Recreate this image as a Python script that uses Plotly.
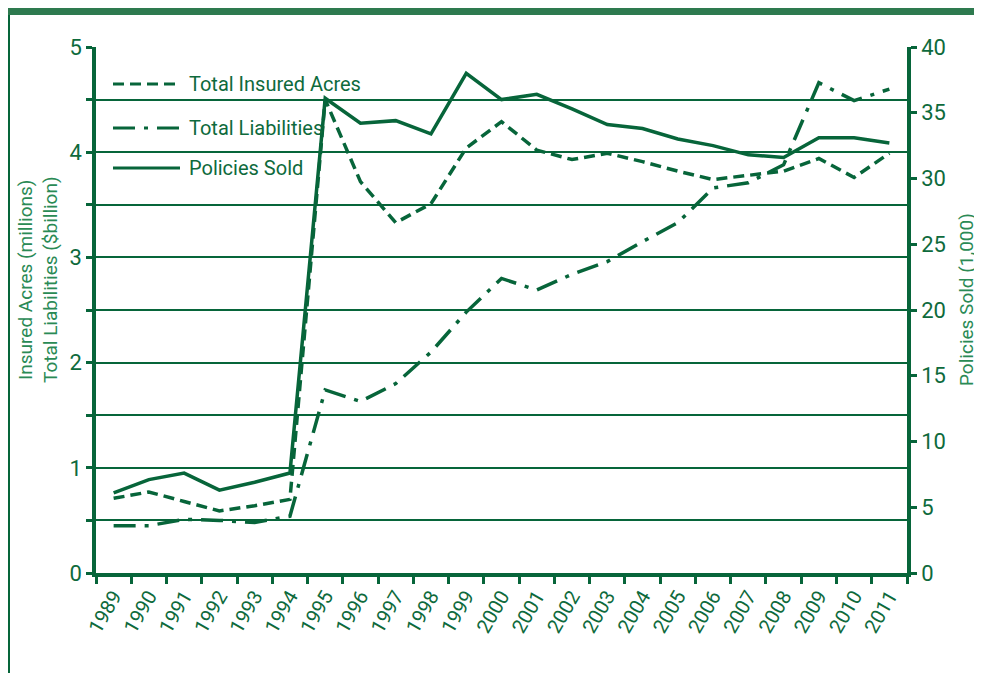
import plotly.graph_objects as go

years = ["1989", "1990", "1991", "1992", "1993", "1994", "1995", "1996", "1997", "1998", "1999",
         "2000", "2001", "2002", "2003", "2004", "2005", "2006", "2007", "2008", "2009", "2010", "2011"]
insured_acres = [0.71, 0.77, 0.68, 0.59, 0.64, 0.70, 4.50, 3.72, 3.33, 3.51, 4.04, 4.29,
                 4.02, 3.93, 3.99, 3.91, 3.82, 3.74, 3.78, 3.82, 3.94, 3.76, 3.99]
liabilities = [0.45, 0.45, 0.51, 0.50, 0.48, 0.54, 1.74, 1.63, 1.80, 2.10, 2.48, 2.80,
               2.69, 2.84, 2.96, 3.15, 3.33, 3.66, 3.71, 3.88, 4.66, 4.49, 4.60]
policies_sold = [6.1, 7.1, 7.6, 6.3, 6.9, 7.6, 36.1, 34.2, 34.4, 33.4, 38.0, 36.0,
                 36.4, 35.3, 34.1, 33.8, 33.0, 32.5, 31.8, 31.6, 33.1, 33.1, 32.7]
left_ticks = [0, 0.5, 1, 1.5, 2, 2.5, 3, 3.5, 4, 4.5, 5]
left_labels = ["0", "", "1", "", "2", "", "3", "", "4", "", "5"]
right_ticks = [0, 5, 10, 15, 20, 25, 30, 35, 40]
legend_names = ["Total Insured Acres", "Total Liabilities", "Policies Sold"]

LINE = "#07653a"
TEXT = "#0e6a3c"
TITLE = "#2a8a55"
FONT = "Roboto, sans-serif"
DASH = "11px,6px"
DASHDOT = "22px,9px,4px,9px"

OFF = 8  # page body margin
W, H = 982 - OFF, 673 - OFF
L, R, T, B = 96 - OFF, 907 - OFF, 47 - OFF, 573 - OFF


def px(x):  # page pixel -> paper
    return (x - OFF - L) / (R - L)


def py(y):
    return (B - (y - OFF)) / (B - T)


fig = go.Figure()
fig.add_trace(go.Scatter(x=years, y=insured_acres, mode="lines", name=legend_names[0],
                         line=dict(color=LINE, width=3.5, dash=DASH), showlegend=False))
fig.add_trace(go.Scatter(x=years, y=liabilities, mode="lines", name=legend_names[1],
                         line=dict(color=LINE, width=3.5, dash=DASHDOT), showlegend=False))
fig.add_trace(go.Scatter(x=years, y=policies_sold, mode="lines", name=legend_names[2], yaxis="y2",
                         line=dict(color=LINE, width=3.5), showlegend=False))

shapes = []
annotations = []
# banner and left border
shapes.append(dict(type="rect", xref="paper", yref="paper", x0=px(OFF), x1=px(990), y0=py(15), y1=py(0),
                   fillcolor="#2e7a4f", line=dict(width=0), layer="above"))
shapes.append(dict(type="line", xref="paper", yref="paper", x0=px(9), x1=px(9), y0=py(15), y1=py(680),
                   line=dict(color=LINE, width=2)))

# manual legend
leg_rows = [84, 128, 168]
dashes = [DASH, DASHDOT, "solid"]
for name, yy, d in zip(legend_names, leg_rows, dashes):
    shapes.append(dict(type="line", xref="paper", yref="paper", x0=px(113), x1=px(180), y0=py(yy), y1=py(yy),
                       line=dict(color=LINE, width=3, dash=d)))
    annotations.append(dict(xref="paper", yref="paper", x=px(187), y=py(yy), text=name, showarrow=False,
                            xanchor="left", yanchor="middle", font=dict(family=FONT, size=20, color=TEXT)))

annotations.append(dict(xref="paper", yref="paper", x=px(38), y=py(280),
                        text="Insured Acres (millions)<br>Total Liabilities ($billion)",
                        textangle=-90, showarrow=False, xanchor="center", yanchor="middle",
                        font=dict(family=FONT, size=19, color=TITLE)))
annotations.append(dict(xref="paper", yref="paper", x=px(966), y=py(300),
                        text="Policies Sold (1,000)", textangle=-90, showarrow=False,
                        xanchor="center", yanchor="middle", font=dict(family=FONT, size=19, color=TITLE)))

fig.update_layout(
    width=W, height=H,
    margin=dict(l=L, r=W - R, t=T, b=H - B),
    paper_bgcolor="white", plot_bgcolor="white",
    font=dict(family=FONT, color=TEXT),
    shapes=shapes, annotations=annotations,
    xaxis=dict(type="category", range=[-0.5, 22.5], tickson="boundaries", ticks="outside",
               ticklen=7, tickwidth=3, tickcolor=LINE, showgrid=False, showline=True,
               linecolor=LINE, linewidth=3.5, tickangle=-60, tickfont=dict(size=20, color=TEXT, family=FONT)),
    yaxis=dict(range=[0, 5], tickvals=left_ticks, ticktext=left_labels, ticks="outside", ticklen=6,
               tickwidth=3, tickcolor=LINE, showgrid=True, gridcolor=LINE, gridwidth=1.5,
               showline=True, linecolor=LINE, linewidth=3.5, zeroline=False,
               tickfont=dict(size=22, color=TEXT, family=FONT)),
    yaxis2=dict(range=[0, 40], tickvals=right_ticks, overlaying="y", side="right", ticks="outside",
                ticklen=6, tickwidth=3, tickcolor=LINE, showgrid=False, showline=True,
                linecolor=LINE, linewidth=3.5, zeroline=False,
                tickfont=dict(size=22, color=TEXT, family=FONT)),
)

fig.write_html("out.html")
